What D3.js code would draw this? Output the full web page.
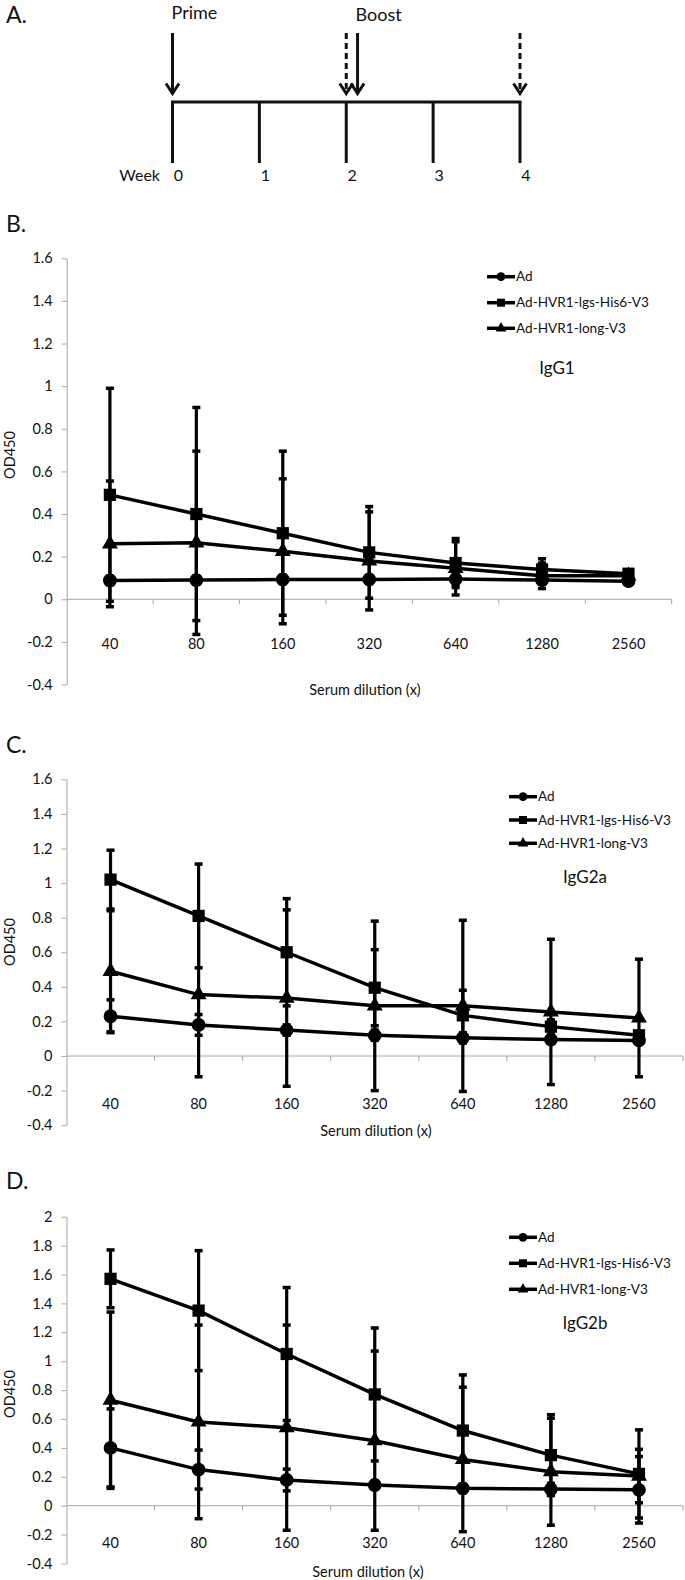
<!DOCTYPE html>
<html><head><meta charset="utf-8">
<script src="https://cdn.jsdelivr.net/npm/d3@7"></script>
<style>
html,body{margin:0;padding:0;background:#fff;}
svg{display:block;font-family:"Lato","Open Sans",sans-serif;}
</style></head>
<body>
<svg id="fig" width="685" height="1580"></svg>
<script>
// ---------- DATA ----------
const weeks = [0, 1, 2, 3, 4];
const primeWeeks = [0];
const boostWeeks = [2.13];
const bleedWeeks = [2, 4];

const dilutions = ["40", "80", "160", "320", "640", "1280", "2560"];
const seriesNames = ["Ad", "Ad-HVR1-lgs-His6-V3", "Ad-HVR1-long-V3"];

const ticksIgG1 = [-0.4, -0.2, 0, 0.2, 0.4, 0.6, 0.8, 1, 1.2, 1.4, 1.6];
const ticksIgG2a = [-0.4, -0.2, 0, 0.2, 0.4, 0.6, 0.8, 1, 1.2, 1.4, 1.6];
const ticksIgG2b = [-0.4, -0.2, 0, 0.2, 0.4, 0.6, 0.8, 1, 1.2, 1.4, 1.6, 1.8, 2];

const igg1Ad = [0.088, 0.09, 0.093, 0.093, 0.095, 0.09, 0.085];
const igg1AdErr = [0.02, 0.02, 0.02, 0.02, 0.03, 0.02, 0.015];
const igg1Lgs = [0.49, 0.40, 0.31, 0.22, 0.17, 0.14, 0.12];
const igg1LgsErr = [0.50, 0.50, 0.385, 0.215, 0.115, 0.05, 0.015];
const igg1Long = [0.26, 0.265, 0.225, 0.18, 0.145, 0.11, 0.11];
const igg1LongErr = [0.295, 0.43, 0.34, 0.23, 0.125, 0.06, 0.02];

const igg2aAd = [0.23, 0.18, 0.15, 0.12, 0.105, 0.095, 0.09];
const igg2aAdErr = [0.095, 0.06, 0.03, 0.03, 0.03, 0.02, 0.02];
const igg2aLgs = [1.02, 0.81, 0.60, 0.395, 0.235, 0.17, 0.12];
const igg2aLgsErr = [0.17, 0.30, 0.31, 0.22, 0.145, 0.04, 0.02];
const igg2aLong = [0.49, 0.355, 0.335, 0.29, 0.29, 0.255, 0.22];
const igg2aLongErr = [0.35, 0.475, 0.51, 0.49, 0.495, 0.42, 0.34];

const igg2bAd = [0.40, 0.25, 0.178, 0.143, 0.12, 0.115, 0.11];
const igg2bAdErr = [0.27, 0.135, 0.075, 0.03, 0.03, 0.04, 0.23];
const igg2bLgs = [1.57, 1.35, 1.05, 0.77, 0.52, 0.35, 0.22];
const igg2bLgsErr = [0.20, 0.415, 0.46, 0.46, 0.385, 0.28, 0.305];
const igg2bLong = [0.73, 0.58, 0.54, 0.45, 0.32, 0.235, 0.205];
const igg2bLongErr = [0.61, 0.67, 0.71, 0.62, 0.50, 0.37, 0.185];

// ---------- DRAW ----------
const svg = d3.select("#fig");
const INK = "#111";
const AXIS = "#a6a6a6";

// Legend font size so that the longest label spans ~133 px (as in the reference)
const probe = svg.append("text").attr("font-size", 15).text(seriesNames[1]);
const probeW = probe.node().getComputedTextLength() || 140;
probe.remove();
const LEG_FS = Math.min(15.2, 15 * 133 / probeW);

// Panel A: timeline
(function(){
  const g = svg.append("g");
  const xw = d3.scaleLinear().domain([0, 4]).range([172.5, 520]);
  const yLine = 102, yTickEnd = 163, yArrowTop = 33, yArrowTip = 93.5;
  g.append("text").attr("x", 6).attr("y", 23).attr("font-size", 23).attr("fill", INK).text("A.");
  g.append("line").attr("x1", xw(0) - 1.5).attr("x2", xw(4) + 1.5).attr("y1", yLine).attr("y2", yLine)
    .attr("stroke", INK).attr("stroke-width", 3);
  g.selectAll("line.wk").data(weeks).join("line").attr("class", "wk")
    .attr("x1", d => xw(d)).attr("x2", d => xw(d)).attr("y1", yLine).attr("y2", yTickEnd)
    .attr("stroke", INK).attr("stroke-width", 3);
  g.selectAll("text.wk").data(weeks).join("text").attr("class", "wk")
    .attr("x", d => xw(d) + 6).attr("y", 180.5).attr("text-anchor", "middle")
    .attr("font-size", 16).attr("fill", INK).text(d => d);
  g.append("text").attr("x", 160).attr("y", 180.5).attr("text-anchor", "end")
    .attr("font-size", 16).attr("fill", INK).text("Week");
  function arrow(w, dashed) {
    const x = xw(w);
    g.append("line").attr("x1", x).attr("x2", x).attr("y1", yArrowTop).attr("y2", yArrowTip - 1)
      .attr("stroke", INK).attr("stroke-width", 3).attr("stroke-dasharray", dashed ? "6,4" : null);
    g.append("path").attr("d", `M${x - 6.5},${yArrowTip - 10} L${x},${yArrowTip} L${x + 6.5},${yArrowTip - 10}`)
      .attr("fill", "none").attr("stroke", INK).attr("stroke-width", 3);
  }
  bleedWeeks.forEach(w => arrow(w, true));
  primeWeeks.forEach(w => arrow(w, false));
  boostWeeks.forEach(w => arrow(w, false));
  g.append("text").attr("x", xw(primeWeeks[0]) - 1).attr("y", 18.5).attr("font-size", 18).attr("fill", INK).text("Prime");
  g.append("text").attr("x", xw(boostWeeks[0]) - 2).attr("y", 20.5).attr("font-size", 18).attr("fill", INK).text("Boost");
})();

const fmt = d => String(+d.toFixed(1));

function drawChart(cfg) {
  const g = svg.append("g");
  const x = d3.scaleBand().domain(dilutions).range([cfg.x0, cfg.x1]).padding(0);
  const y = d3.scaleLinear().domain([cfg.ticks[0], cfg.ticks[cfg.ticks.length - 1]]).range([cfg.yBot, cfg.yTop]);
  const cx = d => x(d) + x.bandwidth() / 2;

  g.append("text").attr("x", 6).attr("y", cfg.letterY).attr("font-size", 23).attr("fill", INK).text(cfg.letter);

  // Y axis
  const ya = g.append("g").attr("transform", `translate(${cfg.x0},0)`)
    .call(d3.axisLeft(y).tickValues(cfg.ticks).tickFormat(fmt).tickSize(5).tickSizeOuter(0).tickPadding(9));
  ya.select(".domain").attr("stroke", AXIS);
  ya.selectAll(".tick line").attr("stroke", AXIS);
  ya.selectAll(".tick text").attr("font-size", 14.5).attr("fill", INK).attr("font-family", "Lato");

  // X axis at y=0
  const y0 = y(0);
  g.append("line").attr("x1", cfg.x0).attr("x2", cfg.x1).attr("y1", y0).attr("y2", y0).attr("stroke", AXIS);
  const bounds = dilutions.map(d => x(d)).concat([cfg.x1]);
  g.selectAll("line.xt").data(bounds.slice(1)).join("line").attr("class", "xt")
    .attr("x1", d => d).attr("x2", d => d).attr("y1", y0).attr("y2", y0 + 5).attr("stroke", AXIS);
  g.selectAll("text.xl").data(dilutions).join("text").attr("class", "xl")
    .attr("x", d => cx(d)).attr("y", cfg.labelY).attr("dy", "0.35em").attr("text-anchor", "middle")
    .attr("font-size", 14.5).attr("fill", INK).text(d => d);

  g.append("text").attr("x", cfg.titleX).attr("y", cfg.titleY).attr("dy", "0.35em").attr("text-anchor", "middle")
    .attr("font-size", 14.5).attr("fill", INK).text("Serum dilution (x)");
  g.append("text").attr("transform", `translate(10,${cfg.odY}) rotate(-90)`).attr("dy", "0.35em")
    .attr("text-anchor", "middle").attr("font-size", 14.5).attr("fill", INK).text("OD450");

  const symbols = [d3.symbolCircle, d3.symbolSquare, d3.symbolTriangle];
  const sizes = [150, 150, 110];
  const legSizes = [60, 64, 50];

  // error bars
  cfg.series.forEach((s, si) => {
    const eg = g.append("g");
    dilutions.forEach((d, i) => {
      const v = s.v[i], e = s.e[i];
      const xx = cx(d);
      eg.append("line").attr("x1", xx).attr("x2", xx).attr("y1", y(v + e)).attr("y2", y(v - e))
        .attr("stroke", "#000").attr("stroke-width", 3.2);
      [v + e, v - e].forEach(t => {
        eg.append("line").attr("x1", xx - 4).attr("x2", xx + 4).attr("y1", y(t)).attr("y2", y(t))
          .attr("stroke", "#000").attr("stroke-width", 3.5);
      });
    });
  });
  // lines and markers
  cfg.series.forEach((s, si) => {
    const pts = dilutions.map((d, i) => [cx(d), y(s.v[i])]);
    g.append("path").attr("d", d3.line()(pts)).attr("fill", "none").attr("stroke", "#000").attr("stroke-width", 3.5);
    g.selectAll(null).data(pts).join("path")
      .attr("transform", p => `translate(${p[0]},${p[1]})`)
      .attr("d", d3.symbol(symbols[si], sizes[si])).attr("fill", "#000");
  });

  // legend
  seriesNames.forEach((name, i) => {
    const ly = cfg.legY[i];
    g.append("line").attr("x1", cfg.legX).attr("x2", cfg.legX + 28).attr("y1", ly).attr("y2", ly)
      .attr("stroke", "#000").attr("stroke-width", 3.5);
    g.append("path").attr("transform", `translate(${cfg.legX + 14},${ly})`)
      .attr("d", d3.symbol(symbols[i], legSizes[i])).attr("fill", "#000");
    g.append("text").attr("x", cfg.legX + 29).attr("y", ly).attr("dy", "0.35em")
      .attr("font-size", LEG_FS).attr("fill", INK).text(name);
  });
  g.append("text").attr("x", cfg.isoX).attr("y", cfg.isoY).attr("dy", "0.35em").attr("text-anchor", "middle")
    .attr("font-size", 17).attr("fill", INK).text(cfg.iso);
}

drawChart({
  letter: "B.", letterY: 231.5, ticks: ticksIgG1,
  x0: 66.7, x1: 671.7, yTop: 258.3, yBot: 684.5,
  labelY: 644, titleX: 365, titleY: 690, odY: 455,
  legX: 487, legY: [276.7, 302.7, 328.3], iso: "IgG1", isoX: 557, isoY: 368,
  series: [{v: igg1Ad, e: igg1AdErr}, {v: igg1Lgs, e: igg1LgsErr}, {v: igg1Long, e: igg1LongErr}]
});
drawChart({
  letter: "C.", letterY: 753, ticks: ticksIgG2a,
  x0: 66.5, x1: 683, yTop: 779.3, yBot: 1125.2,
  labelY: 1104.3, titleX: 376, titleY: 1130.7, odY: 942,
  legX: 509, legY: [796.7, 820, 843.3], iso: "IgG2a", isoX: 585, isoY: 876.7,
  series: [{v: igg2aAd, e: igg2aAdErr}, {v: igg2aLgs, e: igg2aLgsErr}, {v: igg2aLong, e: igg2aLongErr}]
});
drawChart({
  letter: "D.", letterY: 1189, ticks: ticksIgG2b,
  x0: 66.5, x1: 683, yTop: 1216.7, yBot: 1563.5,
  labelY: 1543.3, titleX: 368, titleY: 1571.7, odY: 1394,
  legX: 509, legY: [1237.3, 1263.3, 1289.3], iso: "IgG2b", isoX: 585, isoY: 1323.3,
  series: [{v: igg2bAd, e: igg2bAdErr}, {v: igg2bLgs, e: igg2bLgsErr}, {v: igg2bLong, e: igg2bLongErr}]
});
</script>
</body></html>
